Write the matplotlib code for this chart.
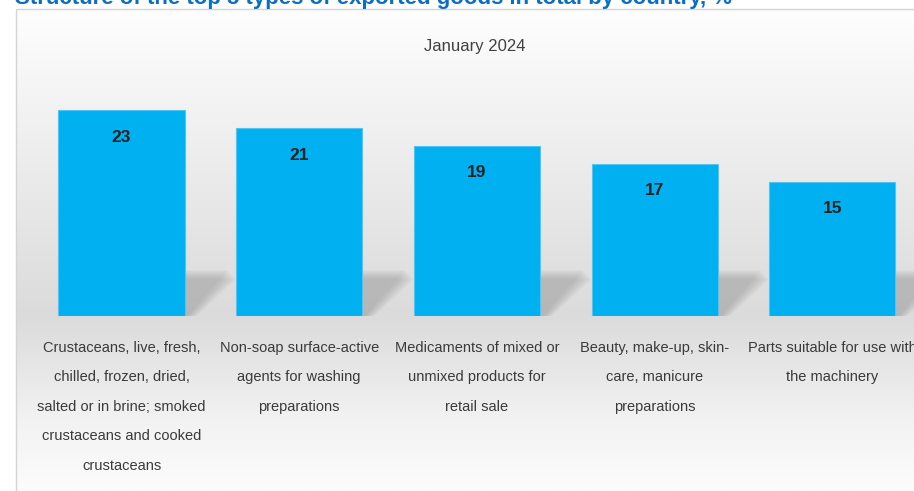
import matplotlib.pyplot as plt
import numpy as np
from matplotlib.patches import Polygon, Rectangle
from matplotlib.transforms import IdentityTransform

# data
title = "January 2024"
categories = [
    "Crustaceans, live, fresh,\nchilled, frozen, dried,\nsalted or in brine; smoked\ncrustaceans and cooked\ncrustaceans",
    "Non-soap surface-active\nagents for washing\npreparations",
    "Medicaments of mixed or\nunmixed products for\nretail sale",
    "Beauty, make-up, skin-\ncare, manicure\npreparations",
    "Parts suitable for use with\nthe machinery",
]
values = [23, 21, 19, 17, 15]

W, H = 914, 491
fnt = ['Liberation Sans', 'DejaVu Sans']

fig = plt.figure(figsize=(W / 100, H / 100), dpi=100)
fig.patch.set_facecolor('white')

# background panel with vertical gradient (pixel coords, y down)
bg = fig.add_axes([0, 0, 1, 1])
bg.set_xlim(0, W)
bg.set_ylim(H, 0)
bg.axis('off')
ys = np.linspace(9, H, 200)
stops_y = [9, 60, 200, 316, 340, 420, H]
stops_c = [254, 248, 232, 219, 224, 242, 252]
shade = np.interp(ys, stops_y, stops_c) / 255.0
grad = np.repeat(shade[:, None], 2, axis=1)
bg.imshow(np.dstack([grad, grad, grad]), extent=(16, W + 5, H, 9), aspect='auto',
          interpolation='bilinear', zorder=0)
bg.add_patch(Rectangle((16, 9), W, H, fill=False, edgecolor='#d4d4d4', lw=1, zorder=1))

# clipped heading at the very top
fig.text(15 / W, 1 - 4 / H, "Structure of the top 5 types of exported goods in total by country, %",
         color='#0a6fc2', fontsize=16, fontweight='bold', family=fnt, va='baseline', ha='left')

# main axes: bar slots 177.7 px wide, baseline at y=316 px, 8.9 px per unit
slot = 177.7
left_px = 121.5 - slot / 2
ymax = 26
unit = 8.95
ax = fig.add_axes([left_px / W, (H - 316) / H, 5 * slot / W, ymax * unit / H])
ax.set_xlim(-0.5, 4.5)
ax.set_ylim(0, ymax)
ax.axis('off')
ax.patch.set_alpha(0)

x = np.arange(len(values))
bw = 0.71
bars = ax.bar(x, values, width=bw, color='#00b0f0', edgecolor='#52c6f2', linewidth=0.8, zorder=3)

# soft shadows behind the bars
fig.canvas.draw()
for b in bars:
    (x0, y0), (x1, _) = ax.transData.transform([(b.get_x(), 0), (b.get_x() + b.get_width(), 0)])
    for k in range(10):
        g = 10 - k
        pts = [(x0, y0), (x1 + 2 + g, y0), (x1 + 42 + g, y0 + 47 - g), (x0 + 42, y0 + 47 - g)]
        ax.add_patch(Polygon(pts, closed=True, transform=IdentityTransform(),
                             facecolor='#8a8a8a', edgecolor='none', alpha=0.05, zorder=2))

for i, v in enumerate(values):
    ax.annotate(str(v), (i, v), xytext=(0, -27), textcoords='offset pixels',
                ha='center', va='center', fontsize=12.5, fontweight='bold',
                color='#222222', family=fnt, zorder=4)
    ax.annotate(categories[i], (i, 0), xytext=(0, -25), textcoords='offset pixels',
                ha='center', va='top', fontsize=10.5, color='#3a3a3a', family=fnt,
                linespacing=2.4, annotation_clip=False)

fig.text(475 / W, 1 - 46 / H, title, ha='center', va='center', fontsize=12,
         color='#404040', family=fnt)

fig.savefig('out.png', dpi=100)
